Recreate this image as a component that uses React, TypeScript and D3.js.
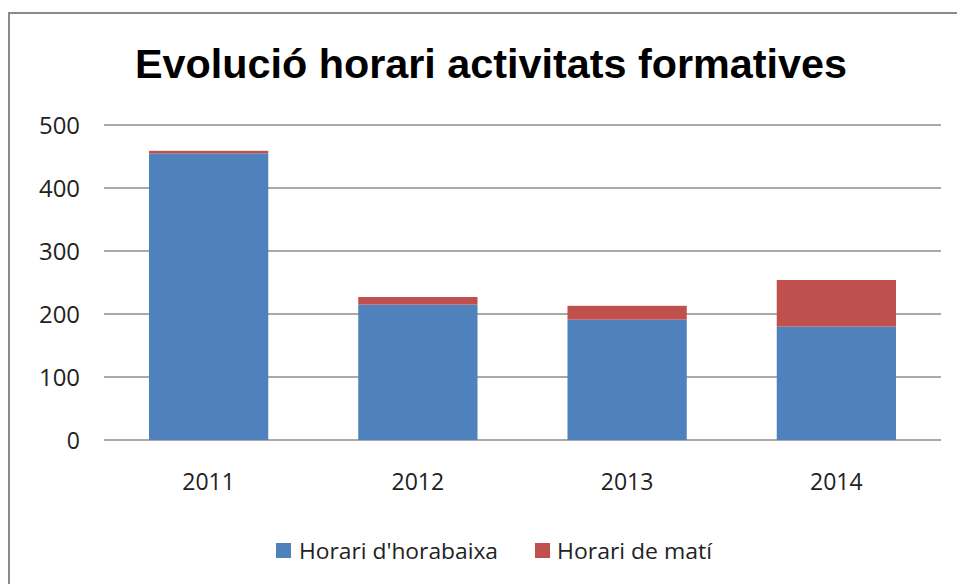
import React from "react";
import * as d3 from "d3";

const categories = ["2011", "2012", "2013", "2014"];
const horabaixa = [455, 215, 191, 180];
const mati = [4, 12, 22, 74];
const yTicks = [0, 100, 200, 300, 400, 500];
const seriesNames = ["Horari d'horabaixa", "Horari de matí"];
const seriesColors = ["#4F81BD", "#C0504D"];
const title = "Evolució horari activitats formatives";

export default function App() {
  const W = 957, H = 584;
  const left = 104, right = 941, top = 125, bottom = 440;
  const x = d3.scaleBand<string>().domain(categories).range([left, right]).paddingInner(0.43).paddingOuter(0.215);
  const y = d3.scaleLinear().domain([0, 500]).range([bottom, top]);
  const rows = categories.map((c, i) => ({ cat: c, h: horabaixa[i], m: mati[i] }));
  const stack = d3.stack<any>().keys(["h", "m"])(rows);
  const font = "'Open Sans', sans-serif";
  return (
    <svg width={W} height={H} style={{ position: "absolute", left: 0, top: 0, background: "#fff" }}>
      <rect x={9} y={13} width={980} height={620} fill="#fff" stroke="#8a8a8a" strokeWidth={2} />
      <text x={491} y={78} textAnchor="middle" fontFamily="'Liberation Sans', Arial, sans-serif" fontWeight="bold" fontSize={40} textLength={712} lengthAdjust="spacingAndGlyphs" fill="#000">{title}</text>
      {yTicks.map((t) => (
        <g key={t}>
          <line x1={left} x2={right} y1={y(t)} y2={y(t)} stroke="#8c8c8c" strokeWidth={1.5} />
          <text x={80} y={y(t) + 8.5} textAnchor="end" fontFamily={font} fontSize={23} textLength={t === 0 ? undefined : 41} lengthAdjust="spacingAndGlyphs" fill="#222">{t}</text>
        </g>
      ))}
      {stack.map((s, si) => (
        <g key={si} fill={seriesColors[si]}>
          {s.map((d: any, i: number) => (
            <rect key={i} x={x(categories[i])!} width={x.bandwidth()} y={y(d[1])} height={y(d[0]) - y(d[1])} />
          ))}
        </g>
      ))}
      {categories.map((c) => (
        <text key={c} x={x(c)! + x.bandwidth() / 2} y={490} textAnchor="middle" fontFamily={font} fontSize={23} fill="#222">{c}</text>
      ))}
      <g>
        <rect x={276} y={543} width={15} height={15} fill={seriesColors[0]} />
        <text x={299} y={559} fontFamily={font} fontSize={22} textLength={199} lengthAdjust="spacingAndGlyphs" fill="#222">{seriesNames[0]}</text>
        <rect x={535} y={543} width={15} height={15} fill={seriesColors[1]} />
        <text x={557} y={559} fontFamily={font} fontSize={22} textLength={155} lengthAdjust="spacingAndGlyphs" fill="#222">{seriesNames[1]}</text>
      </g>
    </svg>
  );
}
